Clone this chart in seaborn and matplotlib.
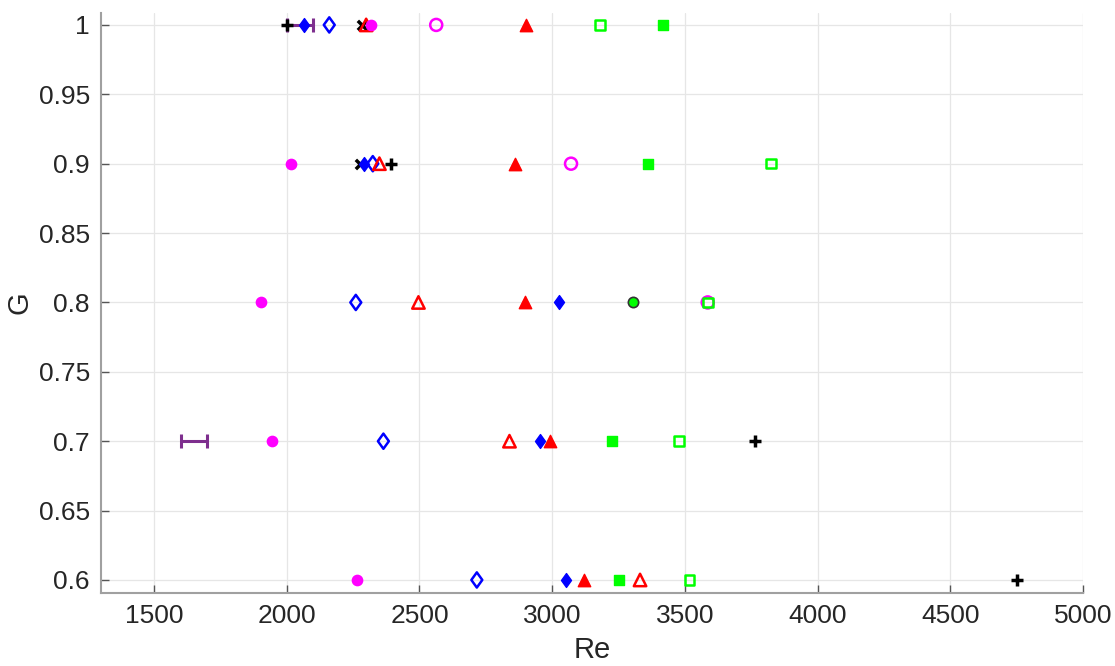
import seaborn as sns
import matplotlib.pyplot as plt
import pandas as pd
from matplotlib.ticker import FormatStrFormatter
from matplotlib.markers import MarkerStyle
from matplotlib.transforms import Affine2D

sns.set_style("white")
plt.rcParams['font.family'] = ['Liberation Sans', 'DejaVu Sans']

# data (Re per G level)
g_plus = [1.0, 0.9, 0.7, 0.6]
re_plus = [2000, 2392, 3765, 4752]

g_x = [1.0, 0.9]
re_x = [2282, 2274]

g_dia_f = [1.0, 0.9, 0.8, 0.7, 0.6]
re_dia_f = [2066, 2291, 3027, 2955, 3051]

g_dia_o = [1.0, 0.9, 0.8, 0.7, 0.6]
re_dia_o = [2160, 2324, 2260, 2364, 2716]

g_tri_f = [1.0, 0.9, 0.8, 0.7, 0.6]
re_tri_f = [2902, 2860, 2898, 2990, 3118]

g_tri_o = [1.0, 0.9, 0.8, 0.7, 0.6]
re_tri_o = [2299, 2349, 2496, 2839, 3331]

g_circ_f = [1.0, 0.9, 0.8, 0.7, 0.6]
re_circ_f = [2316, 2015, 1903, 1943, 2264]

g_circ_o = [1.0, 0.9, 0.8]
re_circ_o = [2563, 3071, 3586]

g_sq_f = [1.0, 0.9, 0.7, 0.6]
re_sq_f = [3419, 3362, 3225, 3250]

g_sq_o = [1.0, 0.9, 0.8, 0.7, 0.6]
re_sq_o = [3181, 3825, 3586, 3478, 3517]

g_gc = [0.8]
re_gc = [3303]

# range bars (center +- half width)
g_bar = [1.0, 0.7]
re_bar = [2050, 1650]
re_bar_err = [50, 50]

fig = plt.figure(figsize=(11.15, 6.66), dpi=100)
ax = fig.add_axes([0.0906, 0.1096, 0.8807, 0.8709])

ax.errorbar(re_bar, g_bar, xerr=re_bar_err, fmt='none', ecolor='#7E2F8E',
            elinewidth=2.2, capsize=5, capthick=2.2, zorder=2)

series = [
    (re_plus, g_plus, '+', 'black', True, 70),
    (re_x, g_x, 'x', 'black', True, 45),
    (re_dia_f, g_dia_f, 'D', 'blue', True, 50),
    (re_dia_o, g_dia_o, 'D', 'blue', False, 60),
    (re_tri_f, g_tri_f, '^', 'red', True, 80),
    (re_tri_o, g_tri_o, '^', 'red', False, 80),
    (re_circ_f, g_circ_f, 'o', 'magenta', True, 55),
    (re_circ_o, g_circ_o, 'o', 'magenta', False, 75),
    (re_sq_f, g_sq_f, 's', 'lime', True, 48),
    (re_sq_o, g_sq_o, 's', 'lime', False, 48),
]

for re, g, m, c, filled, s in series:
    df = pd.DataFrame({'Re': re, 'G': g})
    if m in ('+', 'x'):
        sns.scatterplot(data=df, x='Re', y='G', marker=m, color=c, s=s,
                        linewidth=2.5, ax=ax, zorder=3)
    elif filled:
        sns.scatterplot(data=df, x='Re', y='G', marker=m, color=c, s=s,
                        edgecolor=c, linewidth=1, ax=ax, zorder=3)
    else:
        sns.scatterplot(data=df, x='Re', y='G', marker=m, s=s,
                        facecolor='none', edgecolor=c, linewidth=1.8, ax=ax, zorder=3)

# squash diamonds into the taller MATLAB shape
for coll in ax.collections[-8:-6]:
    ms = MarkerStyle('D')
    path = ms.get_path().transformed(ms.get_transform() + Affine2D().scale(0.72, 1.0))
    coll.set_paths([path])

df = pd.DataFrame({'Re': re_gc, 'G': g_gc})
sns.scatterplot(data=df, x='Re', y='G', marker='o', color='lime', s=55,
                edgecolor='#333333', linewidth=1.2, ax=ax, zorder=4)

ax.set_xlim(1300, 5000)
ax.set_ylim(0.5906, 1.0086)
ax.set_xticks(range(1500, 5001, 500))
ax.set_yticks([0.6, 0.65, 0.7, 0.75, 0.8, 0.85, 0.9, 0.95, 1.0])
ax.yaxis.set_major_formatter(FormatStrFormatter('%g'))
ax.grid(True, color='#e6e6e6', linewidth=0.9)
ax.set_axisbelow(True)

for side in ['top', 'right']:
    ax.spines[side].set_visible(False)
for side in ['left', 'bottom']:
    ax.spines[side].set_color('#a0a0a0')
    ax.spines[side].set_linewidth(1.5)

ax.tick_params(bottom=True, left=True, direction='in', length=6, width=1,
               color='#555555', labelsize=19, labelcolor='#262626', pad=8)
ax.set_xlabel('Re', fontsize=21, color='#262626', labelpad=6)
ax.set_ylabel('G', fontsize=21, color='#262626', labelpad=4)

plt.savefig('out.png', dpi=100)
